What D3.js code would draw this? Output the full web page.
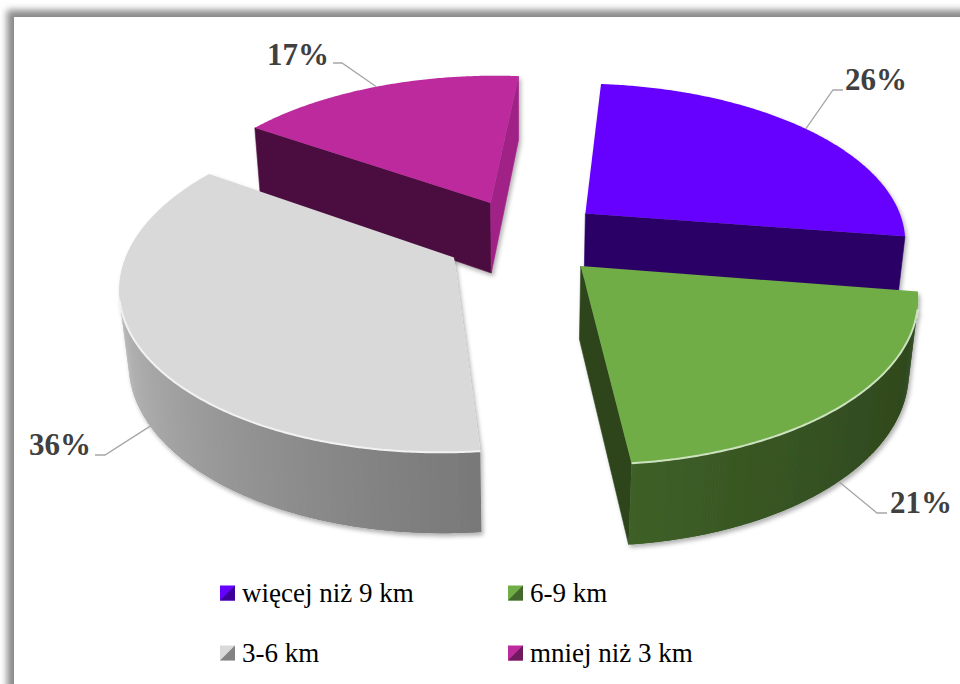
<!DOCTYPE html>
<html>
<head>
<meta charset="utf-8">
<script src="https://cdn.jsdelivr.net/npm/d3@7"></script>
<style>
  html, body { margin: 0; padding: 0; background: #fff; }
  svg { display: block; }
</style>
</head>
<body>
<svg id="chart" width="960" height="684"></svg>
<script>
// Distance categories and their shares (%)
const categories = ["więcej niż 9 km", "6-9 km", "3-6 km", "mniej niż 3 km"];
const shares = [26, 21, 36, 17];
const shareLabels = ["26%", "21%", "36%", "17%"];
const sliceColors = ["#6600ff", "#70ad47", "#d9d9d9", "#bd2a9e"];

const svg = d3.select("#chart");
const defs = svg.append("defs");

// ---- frame with soft shadow on the top/left edges ----
const frameBlur = defs.append("filter").attr("id", "frameShadow")
  .attr("x", "-5%").attr("y", "-5%").attr("width", "110%").attr("height", "110%");
frameBlur.append("feGaussianBlur").attr("stdDeviation", 3.5);
svg.append("rect").attr("x", 7).attr("y", 10).attr("width", 1000).attr("height", 1000)
  .attr("fill", "#8a8a8a").attr("filter", "url(#frameShadow)");
svg.append("rect").attr("x", 14).attr("y", 17).attr("width", 960).attr("height", 700)
  .attr("fill", "#fff");

const sliceShadow = defs.append("filter").attr("id", "sliceShadow")
  .attr("x", "-10%").attr("y", "-10%").attr("width", "120%").attr("height", "120%");
sliceShadow.append("feDropShadow").attr("dx", 2).attr("dy", 3).attr("stdDeviation", 2.2)
  .attr("flood-color", "#000").attr("flood-opacity", 0.3);

// ---- 3D perspective view of the pie ----
const cam = { cx: 524, cy: 237, tilt: 29.2 * Math.PI / 180, focal: 1790 };
const radius = 322, thickness = 84, explode = 80;
const firstAngle = 5 * Math.PI / 180;
const cosT = Math.cos(cam.tilt), sinT = Math.sin(cam.tilt);

function project(p) {
  const [X, Y, Z] = p;
  const up = Y * cosT + Z * sinT;
  const d = Z * cosT - Y * sinT;
  const s = cam.focal / (cam.focal + d);
  return [cam.cx + X * s, cam.cy - up * s];
}
const eye = [0, cam.focal * sinT, -cam.focal * cosT];
const facesEye = (n, p) =>
  n[0] * (eye[0] - p[0]) + n[1] * (eye[1] - p[1]) + n[2] * (eye[2] - p[2]) > 0;

const color = d3.scaleOrdinal().domain(categories).range(sliceColors);
const darken = (c, k) => d3.interpolateRgb("#000", c)(k);
const lighten = (c, k) => d3.interpolateRgb(c, "#fff")(k);
const sideShade = d3.scaleLinear().domain([90, 270]).range([0, 1]).clamp(true);

const arcs = d3.pie().sort(null).value(d => d)
  .startAngle(firstAngle).endAngle(firstAngle + 2 * Math.PI)(shares);

const polygon = d3.line().curve(d3.curveLinearClosed);
const polyline = d3.line();

// geometry for each slice
const slices = arcs.map((a, i) => {
  const mid = (a.startAngle + a.endAngle) / 2;
  const ox = explode * Math.sin(mid), oz = explode * Math.cos(mid);
  const rim = (t, Y) => [ox + radius * Math.sin(t), Y, oz + radius * Math.cos(t)];
  const tip = Y => [ox, Y, oz];
  const n = Math.ceil((a.endAngle - a.startAngle) / (Math.PI / 360));
  const ts = d3.range(n + 1).map(k => a.startAngle + (a.endAngle - a.startAngle) * k / n);
  return { a, i, mid, ox, oz, rim, tip, ts, depthKey: oz };
});

// paint back-to-front
const order = slices.slice().sort((p, q) => q.depthKey - p.depthKey);
const pieLayer = svg.append("g");

order.forEach(sl => {
  const c = color(categories[sl.i]);
  const g = pieLayer.append("g").attr("filter", "url(#sliceShadow)");
  const { a, rim, tip, ts } = sl;

  // radial cut faces
  const cuts = [
    { t: a.startAngle, n: [-Math.cos(a.startAngle), 0, Math.sin(a.startAngle)] },
    { t: a.endAngle, n: [Math.cos(a.endAngle), 0, -Math.sin(a.endAngle)] }
  ];
  cuts.forEach(cut => {
    if (!facesEye(cut.n, tip(0))) return;
    const pts = [tip(0), rim(cut.t, 0), rim(cut.t, -thickness), tip(-thickness)].map(project);
    const k = 0.4 + 0.45 * Math.max(0, cut.n[0]);
    const fill = darken(c, k);
    g.append("path").attr("d", polygon(pts)).attr("fill", fill)
      .attr("stroke", fill).attr("stroke-width", 0.6);
  });

  // curved outer side, in thin overlapping strips
  const visibleTs = [];
  const step = ts[1] - ts[0];
  for (let k = 0; k < ts.length - 1; k++) {
    const t0 = ts[k], t1 = ts[k + 1], tm = (t0 + t1) / 2;
    const nrm = [Math.sin(tm), 0, Math.cos(tm)];
    if (!facesEye(nrm, rim(tm, 0))) continue;
    visibleTs.push(t0, t1);
    const deg = ((tm * 180 / Math.PI) % 360 + 360) % 360;
    const kk = 0.4 + 0.52 * Math.pow(sideShade(deg), 1.6);
    const fill = darken(c, kk);
    const e0 = Math.max(a.startAngle, t0 - step * 0.6), e1 = Math.min(a.endAngle, t1 + step * 0.6);
    const pts = [rim(e0, 0), rim(e1, 0), rim(e1, -thickness), rim(e0, -thickness)].map(project);
    g.append("path").attr("d", polygon(pts)).attr("fill", fill);
  }

  // top face
  const topPts = [tip(0)].concat(ts.map(t => rim(t, 0))).map(project);
  g.append("path").attr("d", polygon(topPts)).attr("fill", c);

  // bevel highlight along the front rim of the top face
  if (visibleTs.length) {
    const lo = d3.min(visibleTs), hi = d3.max(visibleTs);
    const edge = ts.filter(t => t >= lo && t <= hi).map(t => project(rim(t, 0)));
    g.append("path").attr("d", polyline(edge)).attr("fill", "none")
      .attr("stroke", lighten(c, 0.65)).attr("stroke-width", 2);
  }
});

// ---- data labels with leader lines ----
const labelLayout = [
  { x: 845, y: 90, elbow: [[843, 90], [833, 90]] },
  { x: 890, y: 513, elbow: [[887, 513], [877, 513]] },
  { x: 29, y: 455, elbow: [[95, 455], [105, 455]] },
  { x: 267, y: 65, elbow: [[333, 63], [342, 63]] }
];
const labelLayer = svg.append("g");
slices.forEach(sl => {
  const L = labelLayout[sl.i];
  const attachY = Math.cos(sl.mid) > 0 ? 0 : -thickness;
  const anchor = project(sl.rim(sl.mid, attachY));
  labelLayer.append("path")
    .attr("d", polyline(L.elbow.concat([anchor])))
    .attr("fill", "none").attr("stroke", "#a6a6a6").attr("stroke-width", 1.3);
  labelLayer.append("text")
    .attr("x", L.x).attr("y", L.y)
    .attr("font-family", "'Liberation Serif', 'Times New Roman', serif")
    .attr("font-weight", "bold").attr("font-size", 31)
    .attr("fill", "#404040")
    .text(shareLabels[sl.i]);
});

// ---- legend ----
const legendCols = [220, 508], legendRows = [593, 653];
const legend = svg.append("g");
categories.forEach((name, i) => {
  const x = legendCols[i % 2], y = legendRows[Math.floor(i / 2)];
  const c = color(name), s = 15;
  legend.append("rect").attr("x", x).attr("y", y - s / 2).attr("width", s).attr("height", s)
    .attr("fill", c);
  legend.append("path")
    .attr("d", polygon([[x, y + s / 2], [x + s, y + s / 2], [x + s, y - s / 2]]))
    .attr("fill", darken(c, 0.6));
  legend.append("text")
    .attr("x", x + 22).attr("y", y + 9)
    .attr("font-family", "'Liberation Serif', 'Times New Roman', serif")
    .attr("font-size", 27).attr("fill", "#000")
    .text(name);
});
</script>
</body>
</html>
